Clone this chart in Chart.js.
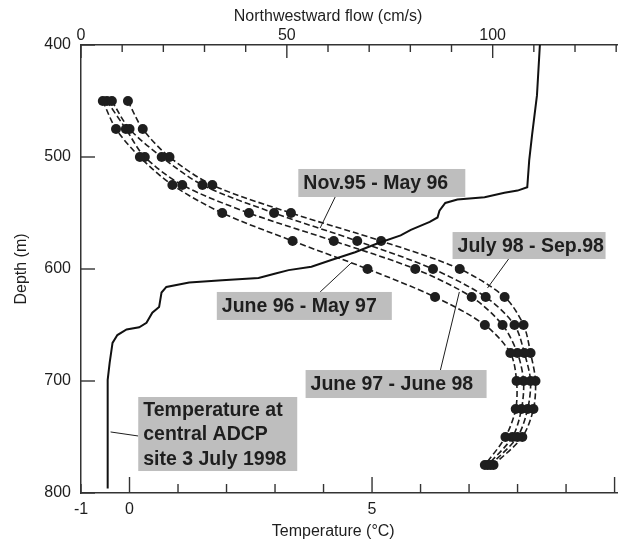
<!DOCTYPE html>
<html>
<head>
<meta charset="utf-8">
<script src="https://cdn.jsdelivr.net/npm/chart.js@4.4.0/dist/chart.umd.min.js"></script>
<style>
  html, body { margin: 0; padding: 0; background: #fff; }
  #wrap { width: 622px; height: 542px; }
</style>
</head>
<body>
<div id="wrap"><canvas id="myChart"></canvas></div>
<script>
// Depth of the moored current meter bins (m)
const flowDepths = [450, 475, 500, 525, 550, 575, 600, 625, 650, 675, 700, 725, 750, 775];

// Northwestward flow (cm/s), one array per period
const flowJun96 = [5.3, 8.5, 14.3, 22.2, 34.3, 51.4, 69.6, 86.0, 98.1, 104.3, 105.8, 105.6, 103.1, 98.1];
const flowJun97 = [6.3, 10.9, 15.5, 24.6, 40.8, 61.4, 81.2, 94.9, 102.4, 106.0, 107.5, 107.0, 104.8, 98.8];
const flowNov95 = [7.5, 11.8, 19.6, 29.5, 46.9, 67.1, 85.5, 98.3, 105.3, 107.7, 109.2, 108.5, 106.0, 99.5];
const flowJul98 = [11.4, 15.0, 21.5, 31.9, 51.0, 72.9, 92.0, 102.9, 107.5, 109.2, 110.4, 109.9, 107.2, 100.2];

// Temperature profile, central ADCP site 3 July 1998
const tempDepths = [400, 445, 480, 503, 527, 530, 532, 536, 538, 541, 548, 554, 558, 565, 570, 577, 585, 592, 598, 601,
  604, 608, 610, 612, 616, 621, 634, 639, 648, 652, 654, 659, 666, 672, 684, 699, 735, 796];
const tempValues = [8.46, 8.40, 8.30, 8.24, 8.20, 8.00, 7.73, 7.32, 6.76, 6.51, 6.39, 6.35, 6.19, 5.80, 5.59, 5.12, 4.65, 4.16, 3.75, 3.28,
  3.01, 2.66, 1.91, 1.23, 0.76, 0.66, 0.61, 0.47, 0.35, 0.20, -0.06, -0.25, -0.35, -0.37, -0.41, -0.45, -0.45, -0.45];

// axis ticks
const depthTicks = [400, 500, 600, 700, 800];
const tempTickLabels = [-1, 0, 5];
const flowTickLabels = [0, 50, 100];

const ink = '#1e1e1e';
const boxGrey = '#bebebe';

// label boxes, anchored in temperature / depth units
const notes = [
  { lines: ['Nov.95 - May 96'], t: 3.48, d: 510.7, w: 167, h: 28, from: [4.24, 535.7], to: [3.93, 563.4] },
  { lines: ['July 98 - Sep.98'], t: 6.66, d: 567.0, w: 153, h: 27, from: [7.83, 590.2], to: [7.38, 617.0] },
  { lines: ['June 96 - May 97'], t: 1.80, d: 620.5, w: 175, h: 28, from: [3.93, 620.5], to: [4.57, 594.6] },
  { lines: ['June 97 - June 98'], t: 3.63, d: 690.2, w: 181, h: 28, from: [6.41, 690.2], to: [6.80, 620.5] },
  { lines: ['Temperature at', 'central ADCP', 'site 3 July 1998'], t: 0.18, d: 714.3, w: 159, h: 74, from: [0.18, 749.1], to: [-0.39, 745.5] }
];

const toPoints = (xs, ys) => xs.map((x, i) => ({ x: x, y: ys[i] }));

function flowSet(label, values) {
  return {
    label: label,
    data: toPoints(values, flowDepths),
    xAxisID: 'xF',
    yAxisID: 'y',
    showLine: true,
    borderColor: ink,
    borderWidth: 1.6,
    borderDash: [6, 3],
    tension: 0.3,
    pointRadius: 5,
    pointBackgroundColor: ink,
    pointBorderColor: ink,
    pointBorderWidth: 0
  };
}

// inward tick marks, call-out boxes and x titles
const extras = {
  id: 'extras',
  afterDraw(chart) {
    const { ctx, chartArea: a, scales } = chart;
    const line = (x1, y1, x2, y2) => { ctx.beginPath(); ctx.moveTo(x1, y1); ctx.lineTo(x2, y2); ctx.stroke(); };
    ctx.save();
    ctx.strokeStyle = '#333';
    ctx.lineWidth = 1.4;
    depthTicks.forEach(v => {
      const y = scales.y.getPixelForValue(v);
      line(a.left, y, a.left + 14, y);
    });
    for (let t = -1; t <= 10; t++) {
      const x = scales.xT.getPixelForValue(t);
      line(x, a.bottom, x, a.bottom - (t % 5 === 0 ? 16 : 9));
    }
    for (let f = 0; f <= 130; f += 10) {
      const x = scales.xF.getPixelForValue(f);
      line(x, a.top, x, a.top + (f % 50 === 0 ? 13 : 7));
    }

    // call-outs
    ctx.lineWidth = 1;
    ctx.strokeStyle = ink;
    notes.forEach(n => {
      const x = scales.xT.getPixelForValue(n.t);
      const y = scales.y.getPixelForValue(n.d);
      line(scales.xT.getPixelForValue(n.from[0]), scales.y.getPixelForValue(n.from[1]),
           scales.xT.getPixelForValue(n.to[0]), scales.y.getPixelForValue(n.to[1]));
      ctx.fillStyle = boxGrey;
      ctx.fillRect(x, y, n.w, n.h);
      ctx.fillStyle = ink;
      ctx.font = 'bold 19.5px "Liberation Sans", Arial, sans-serif';
      ctx.textBaseline = 'middle';
      ctx.textAlign = 'left';
      const lh = n.h / n.lines.length;
      n.lines.forEach((s, i) => ctx.fillText(s, x + 5, y + lh * i + lh / 2 + 1));
    });

    // axis titles
    ctx.font = '16px "Liberation Sans", Arial, sans-serif';
    ctx.textAlign = 'center';
    ctx.fillText('Northwestward flow (cm/s)', scales.xF.getPixelForValue(60), 17);
    ctx.fillText('Temperature (\u00B0C)', scales.xT.getPixelForValue(4.2), 532);
    ctx.restore();
  }
};

const tickFont = { family: '"Liberation Sans", Arial, sans-serif', size: 16 };

const ctx = document.getElementById('myChart').getContext('2d');
const myChart = new Chart(ctx, {
  type: 'scatter',
  data: {
    datasets: [
      {
        label: 'Temperature',
        data: toPoints(tempValues, tempDepths),
        xAxisID: 'xT',
        yAxisID: 'y',
        showLine: true,
        borderColor: '#111',
        borderWidth: 2,
        pointRadius: 0,
        tension: 0
      },
      flowSet('Nov.95 - May 96', flowNov95),
      flowSet('June 96 - May 97', flowJun96),
      flowSet('June 97 - June 98', flowJun97),
      flowSet('July 98 - Sep.98', flowJul98)
    ]
  },
  options: {
    responsive: true,
    maintainAspectRatio: false,
    animation: false,
    devicePixelRatio: 1,
    layout: { padding: { left: 0, right: 2, top: 0, bottom: 0 } },
    plugins: { legend: { display: false }, tooltip: { enabled: false } },
    scales: {
      y: {
        type: 'linear',
        position: 'left',
        reverse: true,
        min: 400,
        max: 800,
        afterBuildTicks: s => { s.ticks = depthTicks.map(v => ({ value: v })); },
        afterFit: s => { s.width = 81; },
        ticks: { color: ink, font: tickFont, padding: 10 },
        grid: { display: false, drawTicks: false },
        border: { display: true, color: '#333', width: 1.5 },
        title: { display: true, text: 'Depth (m)', color: ink, font: tickFont, padding: { top: 12 } }
      },
      xT: {
        type: 'linear',
        position: 'bottom',
        min: -1,
        max: 10.05,
        afterBuildTicks: s => { s.ticks = tempTickLabels.map(v => ({ value: v })); },
        afterFit: s => { s.height = 49; },
        ticks: { color: ink, font: tickFont, padding: 7, maxRotation: 0 },
        grid: { display: false, drawTicks: false },
        border: { display: true, color: '#333', width: 1.5 }
      },
      xF: {
        type: 'linear',
        position: 'top',
        min: 0,
        max: 130.2,
        afterBuildTicks: s => { s.ticks = flowTickLabels.map(v => ({ value: v })); },
        afterFit: s => { s.height = 45; },
        ticks: { color: ink, font: tickFont, padding: 0, maxRotation: 0 },
        grid: { display: false, drawTicks: false },
        border: { display: true, color: '#333', width: 1.5 }
      }
    }
  },
  plugins: [extras]
});
</script>
</body>
</html>
